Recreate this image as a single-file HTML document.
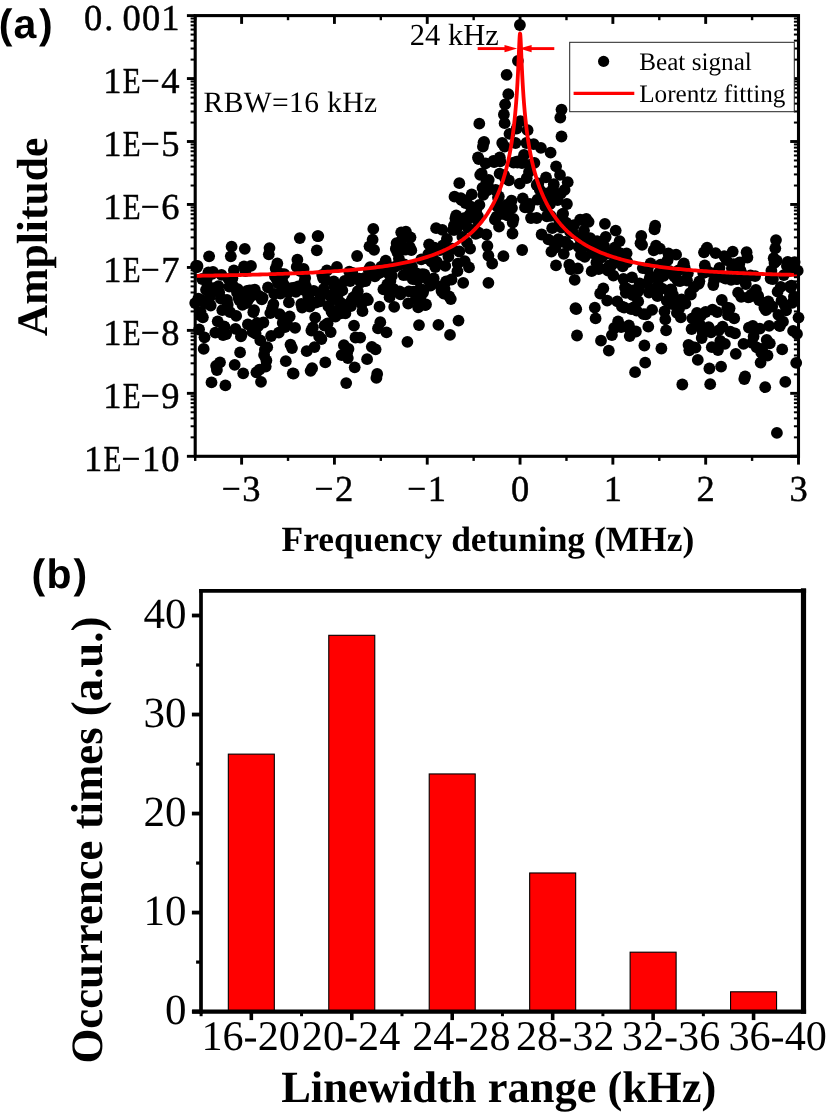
<!DOCTYPE html>
<html lang="en">
<head>
<meta charset="utf-8">
<title>Beat signal linewidth figure</title>
<style>
html,body{margin:0;padding:0;background:#fff;}
body{width:827px;height:1112px;overflow:hidden;}
svg{display:block;will-change:transform;}
text{fill:#000;text-rendering:geometricPrecision;}
</style>
</head>
<body>
<svg width="827" height="1112" viewBox="0 0 827 1112">
<rect x="0" y="0" width="827" height="1112" fill="#fff"/>
<g fill="#000">
<circle cx="195.2" cy="303.1" r="5.90"/>
<circle cx="196.0" cy="265.9" r="5.90"/>
<circle cx="196.7" cy="267.4" r="5.90"/>
<circle cx="197.5" cy="265.9" r="5.90"/>
<circle cx="198.3" cy="298.6" r="5.90"/>
<circle cx="199.1" cy="329.5" r="5.90"/>
<circle cx="199.8" cy="315.0" r="5.90"/>
<circle cx="200.6" cy="311.8" r="5.90"/>
<circle cx="201.4" cy="300.0" r="5.90"/>
<circle cx="202.2" cy="279.0" r="5.90"/>
<circle cx="202.9" cy="317.3" r="5.90"/>
<circle cx="203.7" cy="348.9" r="5.90"/>
<circle cx="204.5" cy="337.3" r="5.90"/>
<circle cx="205.3" cy="303.2" r="5.90"/>
<circle cx="206.0" cy="289.8" r="5.90"/>
<circle cx="206.8" cy="278.7" r="5.90"/>
<circle cx="207.6" cy="285.6" r="5.90"/>
<circle cx="208.4" cy="272.3" r="5.90"/>
<circle cx="209.1" cy="256.3" r="5.90"/>
<circle cx="209.9" cy="296.9" r="5.90"/>
<circle cx="210.7" cy="305.5" r="5.90"/>
<circle cx="211.5" cy="382.4" r="5.90"/>
<circle cx="212.2" cy="273.8" r="5.90"/>
<circle cx="213.0" cy="272.0" r="5.90"/>
<circle cx="213.8" cy="288.1" r="5.90"/>
<circle cx="214.6" cy="289.1" r="5.90"/>
<circle cx="215.3" cy="332.6" r="5.90"/>
<circle cx="216.1" cy="365.8" r="5.90"/>
<circle cx="216.9" cy="370.0" r="5.90"/>
<circle cx="217.7" cy="321.3" r="5.90"/>
<circle cx="218.4" cy="286.1" r="5.90"/>
<circle cx="219.2" cy="292.4" r="5.90"/>
<circle cx="220.0" cy="362.3" r="5.90"/>
<circle cx="220.8" cy="298.5" r="5.90"/>
<circle cx="221.5" cy="274.8" r="5.90"/>
<circle cx="222.3" cy="310.2" r="5.90"/>
<circle cx="223.1" cy="335.1" r="5.90"/>
<circle cx="223.9" cy="326.4" r="5.90"/>
<circle cx="224.6" cy="326.8" r="5.90"/>
<circle cx="225.4" cy="385.4" r="5.90"/>
<circle cx="226.2" cy="334.1" r="5.90"/>
<circle cx="227.0" cy="300.0" r="5.90"/>
<circle cx="227.7" cy="304.7" r="5.90"/>
<circle cx="228.5" cy="278.9" r="5.90"/>
<circle cx="229.3" cy="286.6" r="5.90"/>
<circle cx="230.1" cy="312.2" r="5.90"/>
<circle cx="230.8" cy="256.3" r="5.90"/>
<circle cx="231.6" cy="246.7" r="5.90"/>
<circle cx="232.4" cy="278.2" r="5.90"/>
<circle cx="233.1" cy="286.0" r="5.90"/>
<circle cx="233.9" cy="270.3" r="5.90"/>
<circle cx="234.7" cy="364.8" r="5.90"/>
<circle cx="235.5" cy="328.8" r="5.90"/>
<circle cx="236.2" cy="315.9" r="5.90"/>
<circle cx="237.0" cy="292.6" r="5.90"/>
<circle cx="237.8" cy="289.2" r="5.90"/>
<circle cx="238.6" cy="297.4" r="5.90"/>
<circle cx="239.3" cy="300.0" r="5.90"/>
<circle cx="240.1" cy="352.4" r="5.90"/>
<circle cx="240.9" cy="336.4" r="5.90"/>
<circle cx="241.7" cy="334.2" r="5.90"/>
<circle cx="242.4" cy="304.8" r="5.90"/>
<circle cx="243.2" cy="373.3" r="5.90"/>
<circle cx="244.0" cy="266.3" r="5.90"/>
<circle cx="244.8" cy="248.8" r="5.90"/>
<circle cx="245.5" cy="271.1" r="5.90"/>
<circle cx="246.3" cy="303.0" r="5.90"/>
<circle cx="247.1" cy="291.0" r="5.90"/>
<circle cx="247.9" cy="324.3" r="5.90"/>
<circle cx="248.6" cy="299.1" r="5.90"/>
<circle cx="249.4" cy="290.3" r="5.90"/>
<circle cx="250.2" cy="296.8" r="5.90"/>
<circle cx="251.0" cy="265.9" r="5.90"/>
<circle cx="251.7" cy="290.5" r="5.90"/>
<circle cx="252.5" cy="331.8" r="5.90"/>
<circle cx="253.3" cy="312.2" r="5.90"/>
<circle cx="254.1" cy="310.1" r="5.90"/>
<circle cx="254.8" cy="289.7" r="5.90"/>
<circle cx="255.6" cy="333.5" r="5.90"/>
<circle cx="256.4" cy="372.3" r="5.90"/>
<circle cx="257.2" cy="323.0" r="5.90"/>
<circle cx="257.9" cy="326.4" r="5.90"/>
<circle cx="258.7" cy="295.7" r="5.90"/>
<circle cx="259.5" cy="369.7" r="5.90"/>
<circle cx="260.3" cy="340.4" r="5.90"/>
<circle cx="261.0" cy="381.8" r="5.90"/>
<circle cx="261.8" cy="299.4" r="5.90"/>
<circle cx="262.6" cy="297.7" r="5.90"/>
<circle cx="263.4" cy="322.5" r="5.90"/>
<circle cx="264.1" cy="355.0" r="5.90"/>
<circle cx="264.9" cy="349.6" r="5.90"/>
<circle cx="265.7" cy="366.6" r="5.90"/>
<circle cx="266.4" cy="360.5" r="5.90"/>
<circle cx="267.2" cy="347.2" r="5.90"/>
<circle cx="268.0" cy="287.4" r="5.90"/>
<circle cx="268.8" cy="254.3" r="5.90"/>
<circle cx="269.5" cy="248.1" r="5.90"/>
<circle cx="270.3" cy="313.1" r="5.90"/>
<circle cx="271.1" cy="336.0" r="5.90"/>
<circle cx="271.9" cy="309.3" r="5.90"/>
<circle cx="272.6" cy="307.7" r="5.90"/>
<circle cx="273.4" cy="304.1" r="5.90"/>
<circle cx="274.2" cy="293.8" r="5.90"/>
<circle cx="275.0" cy="276.4" r="5.90"/>
<circle cx="275.7" cy="268.5" r="5.90"/>
<circle cx="276.5" cy="278.8" r="5.90"/>
<circle cx="277.3" cy="263.5" r="5.90"/>
<circle cx="278.1" cy="283.4" r="5.90"/>
<circle cx="278.8" cy="332.6" r="5.90"/>
<circle cx="279.6" cy="314.1" r="5.90"/>
<circle cx="280.4" cy="293.5" r="5.90"/>
<circle cx="281.2" cy="273.8" r="5.90"/>
<circle cx="281.9" cy="279.4" r="5.90"/>
<circle cx="282.7" cy="323.0" r="5.90"/>
<circle cx="283.5" cy="284.1" r="5.90"/>
<circle cx="284.3" cy="274.2" r="5.90"/>
<circle cx="285.0" cy="327.1" r="5.90"/>
<circle cx="285.8" cy="361.2" r="5.90"/>
<circle cx="286.6" cy="320.5" r="5.90"/>
<circle cx="287.4" cy="324.8" r="5.90"/>
<circle cx="288.1" cy="292.5" r="5.90"/>
<circle cx="288.9" cy="302.3" r="5.90"/>
<circle cx="289.7" cy="316.5" r="5.90"/>
<circle cx="290.5" cy="344.6" r="5.90"/>
<circle cx="291.2" cy="288.1" r="5.90"/>
<circle cx="292.0" cy="348.1" r="5.90"/>
<circle cx="292.8" cy="373.3" r="5.90"/>
<circle cx="293.6" cy="373.7" r="5.90"/>
<circle cx="294.3" cy="287.7" r="5.90"/>
<circle cx="295.1" cy="327.9" r="5.90"/>
<circle cx="295.9" cy="291.8" r="5.90"/>
<circle cx="296.7" cy="266.9" r="5.90"/>
<circle cx="297.4" cy="259.7" r="5.90"/>
<circle cx="298.2" cy="286.3" r="5.90"/>
<circle cx="299.0" cy="268.4" r="5.90"/>
<circle cx="299.8" cy="238.1" r="5.90"/>
<circle cx="300.5" cy="271.1" r="5.90"/>
<circle cx="301.3" cy="304.0" r="5.90"/>
<circle cx="302.1" cy="307.6" r="5.90"/>
<circle cx="302.8" cy="289.5" r="5.90"/>
<circle cx="303.6" cy="268.9" r="5.90"/>
<circle cx="304.4" cy="281.3" r="5.90"/>
<circle cx="305.2" cy="277.9" r="5.90"/>
<circle cx="305.9" cy="286.3" r="5.90"/>
<circle cx="306.7" cy="351.2" r="5.90"/>
<circle cx="307.5" cy="292.8" r="5.90"/>
<circle cx="308.3" cy="296.9" r="5.90"/>
<circle cx="309.0" cy="291.2" r="5.90"/>
<circle cx="309.8" cy="306.7" r="5.90"/>
<circle cx="310.6" cy="370.8" r="5.90"/>
<circle cx="311.4" cy="330.5" r="5.90"/>
<circle cx="312.1" cy="368.2" r="5.90"/>
<circle cx="312.9" cy="327.3" r="5.90"/>
<circle cx="313.7" cy="290.8" r="5.90"/>
<circle cx="314.5" cy="347.1" r="5.90"/>
<circle cx="315.2" cy="317.6" r="5.90"/>
<circle cx="316.0" cy="302.5" r="5.90"/>
<circle cx="316.8" cy="250.3" r="5.90"/>
<circle cx="317.6" cy="236.1" r="5.90"/>
<circle cx="318.3" cy="236.1" r="5.90"/>
<circle cx="319.1" cy="336.4" r="5.90"/>
<circle cx="319.9" cy="301.3" r="5.90"/>
<circle cx="320.7" cy="296.0" r="5.90"/>
<circle cx="321.4" cy="339.0" r="5.90"/>
<circle cx="322.2" cy="274.8" r="5.90"/>
<circle cx="323.0" cy="278.1" r="5.90"/>
<circle cx="323.8" cy="289.0" r="5.90"/>
<circle cx="324.5" cy="325.6" r="5.90"/>
<circle cx="325.3" cy="362.4" r="5.90"/>
<circle cx="326.1" cy="280.6" r="5.90"/>
<circle cx="326.9" cy="270.5" r="5.90"/>
<circle cx="327.6" cy="323.3" r="5.90"/>
<circle cx="328.4" cy="306.2" r="5.90"/>
<circle cx="329.2" cy="306.7" r="5.90"/>
<circle cx="330.0" cy="295.6" r="5.90"/>
<circle cx="330.7" cy="332.1" r="5.90"/>
<circle cx="331.5" cy="311.5" r="5.90"/>
<circle cx="332.3" cy="299.7" r="5.90"/>
<circle cx="333.1" cy="314.0" r="5.90"/>
<circle cx="333.8" cy="281.5" r="5.90"/>
<circle cx="334.6" cy="286.7" r="5.90"/>
<circle cx="335.4" cy="316.7" r="5.90"/>
<circle cx="336.2" cy="314.0" r="5.90"/>
<circle cx="336.9" cy="267.0" r="5.90"/>
<circle cx="337.7" cy="294.5" r="5.90"/>
<circle cx="338.5" cy="309.9" r="5.90"/>
<circle cx="339.2" cy="285.8" r="5.90"/>
<circle cx="340.0" cy="302.2" r="5.90"/>
<circle cx="340.8" cy="313.4" r="5.90"/>
<circle cx="341.6" cy="355.1" r="5.90"/>
<circle cx="342.3" cy="290.4" r="5.90"/>
<circle cx="343.1" cy="304.5" r="5.90"/>
<circle cx="343.9" cy="345.2" r="5.90"/>
<circle cx="344.7" cy="280.9" r="5.90"/>
<circle cx="345.4" cy="313.4" r="5.90"/>
<circle cx="346.2" cy="383.1" r="5.90"/>
<circle cx="347.0" cy="353.2" r="5.90"/>
<circle cx="347.8" cy="358.1" r="5.90"/>
<circle cx="348.5" cy="349.0" r="5.90"/>
<circle cx="349.3" cy="271.7" r="5.90"/>
<circle cx="350.1" cy="281.1" r="5.90"/>
<circle cx="350.9" cy="306.2" r="5.90"/>
<circle cx="351.6" cy="300.4" r="5.90"/>
<circle cx="352.4" cy="272.8" r="5.90"/>
<circle cx="353.2" cy="297.5" r="5.90"/>
<circle cx="354.0" cy="325.6" r="5.90"/>
<circle cx="354.7" cy="367.3" r="5.90"/>
<circle cx="355.5" cy="337.5" r="5.90"/>
<circle cx="356.3" cy="295.0" r="5.90"/>
<circle cx="357.1" cy="256.0" r="5.90"/>
<circle cx="357.8" cy="291.2" r="5.90"/>
<circle cx="358.6" cy="279.6" r="5.90"/>
<circle cx="359.4" cy="278.7" r="5.90"/>
<circle cx="360.2" cy="337.6" r="5.90"/>
<circle cx="360.9" cy="282.4" r="5.90"/>
<circle cx="361.7" cy="304.0" r="5.90"/>
<circle cx="362.5" cy="311.2" r="5.90"/>
<circle cx="363.3" cy="279.3" r="5.90"/>
<circle cx="364.0" cy="279.1" r="5.90"/>
<circle cx="364.8" cy="278.0" r="5.90"/>
<circle cx="365.6" cy="281.1" r="5.90"/>
<circle cx="366.4" cy="298.3" r="5.90"/>
<circle cx="367.1" cy="359.2" r="5.90"/>
<circle cx="367.9" cy="300.1" r="5.90"/>
<circle cx="368.7" cy="269.8" r="5.90"/>
<circle cx="369.5" cy="246.3" r="5.90"/>
<circle cx="370.2" cy="267.1" r="5.90"/>
<circle cx="371.0" cy="268.8" r="5.90"/>
<circle cx="371.8" cy="346.8" r="5.90"/>
<circle cx="372.6" cy="239.7" r="5.90"/>
<circle cx="373.3" cy="228.9" r="5.90"/>
<circle cx="374.1" cy="249.8" r="5.90"/>
<circle cx="374.9" cy="276.3" r="5.90"/>
<circle cx="375.6" cy="349.3" r="5.90"/>
<circle cx="376.4" cy="377.9" r="5.90"/>
<circle cx="377.2" cy="374.0" r="5.90"/>
<circle cx="378.0" cy="328.4" r="5.90"/>
<circle cx="378.7" cy="273.3" r="5.90"/>
<circle cx="379.5" cy="306.7" r="5.90"/>
<circle cx="380.3" cy="322.2" r="5.90"/>
<circle cx="381.1" cy="267.3" r="5.90"/>
<circle cx="381.8" cy="266.3" r="5.90"/>
<circle cx="382.6" cy="271.6" r="5.90"/>
<circle cx="383.4" cy="289.3" r="5.90"/>
<circle cx="384.2" cy="270.4" r="5.90"/>
<circle cx="384.9" cy="269.8" r="5.90"/>
<circle cx="385.7" cy="260.7" r="5.90"/>
<circle cx="386.5" cy="332.4" r="5.90"/>
<circle cx="387.3" cy="284.5" r="5.90"/>
<circle cx="388.0" cy="269.2" r="5.90"/>
<circle cx="388.8" cy="273.9" r="5.90"/>
<circle cx="389.6" cy="297.2" r="5.90"/>
<circle cx="390.4" cy="280.9" r="5.90"/>
<circle cx="391.1" cy="267.5" r="5.90"/>
<circle cx="391.9" cy="275.8" r="5.90"/>
<circle cx="392.7" cy="289.1" r="5.90"/>
<circle cx="393.5" cy="288.8" r="5.90"/>
<circle cx="394.2" cy="306.9" r="5.90"/>
<circle cx="395.0" cy="266.9" r="5.90"/>
<circle cx="395.8" cy="248.7" r="5.90"/>
<circle cx="396.6" cy="243.1" r="5.90"/>
<circle cx="397.3" cy="252.1" r="5.90"/>
<circle cx="398.1" cy="265.0" r="5.90"/>
<circle cx="398.9" cy="258.7" r="5.90"/>
<circle cx="399.7" cy="291.4" r="5.90"/>
<circle cx="400.4" cy="294.4" r="5.90"/>
<circle cx="401.2" cy="232.3" r="5.90"/>
<circle cx="402.0" cy="239.6" r="5.90"/>
<circle cx="402.8" cy="249.0" r="5.90"/>
<circle cx="403.5" cy="275.1" r="5.90"/>
<circle cx="404.3" cy="264.3" r="5.90"/>
<circle cx="405.1" cy="249.7" r="5.90"/>
<circle cx="405.9" cy="231.6" r="5.90"/>
<circle cx="406.6" cy="274.9" r="5.90"/>
<circle cx="407.4" cy="341.8" r="5.90"/>
<circle cx="408.2" cy="303.5" r="5.90"/>
<circle cx="408.9" cy="291.3" r="5.90"/>
<circle cx="409.7" cy="246.8" r="5.90"/>
<circle cx="410.5" cy="237.3" r="5.90"/>
<circle cx="411.3" cy="250.2" r="5.90"/>
<circle cx="412.0" cy="266.7" r="5.90"/>
<circle cx="412.8" cy="279.2" r="5.90"/>
<circle cx="413.6" cy="291.6" r="5.90"/>
<circle cx="414.4" cy="292.1" r="5.90"/>
<circle cx="415.1" cy="292.7" r="5.90"/>
<circle cx="415.9" cy="298.5" r="5.90"/>
<circle cx="416.7" cy="273.5" r="5.90"/>
<circle cx="417.5" cy="280.2" r="5.90"/>
<circle cx="418.2" cy="307.4" r="5.90"/>
<circle cx="419.0" cy="325.1" r="5.90"/>
<circle cx="419.8" cy="289.1" r="5.90"/>
<circle cx="420.6" cy="296.3" r="5.90"/>
<circle cx="421.3" cy="259.3" r="5.90"/>
<circle cx="422.1" cy="274.2" r="5.90"/>
<circle cx="422.9" cy="292.9" r="5.90"/>
<circle cx="423.7" cy="289.9" r="5.90"/>
<circle cx="424.4" cy="274.3" r="5.90"/>
<circle cx="425.2" cy="305.1" r="5.90"/>
<circle cx="426.0" cy="304.5" r="5.90"/>
<circle cx="426.8" cy="258.3" r="5.90"/>
<circle cx="427.5" cy="279.1" r="5.90"/>
<circle cx="428.3" cy="254.1" r="5.90"/>
<circle cx="429.1" cy="244.3" r="5.90"/>
<circle cx="429.9" cy="280.6" r="5.90"/>
<circle cx="430.6" cy="285.7" r="5.90"/>
<circle cx="431.4" cy="261.5" r="5.90"/>
<circle cx="432.2" cy="260.7" r="5.90"/>
<circle cx="433.0" cy="258.6" r="5.90"/>
<circle cx="433.7" cy="278.4" r="5.90"/>
<circle cx="434.5" cy="247.7" r="5.90"/>
<circle cx="435.3" cy="267.0" r="5.90"/>
<circle cx="436.1" cy="228.2" r="5.90"/>
<circle cx="436.8" cy="261.8" r="5.90"/>
<circle cx="437.6" cy="264.2" r="5.90"/>
<circle cx="438.4" cy="324.9" r="5.90"/>
<circle cx="439.2" cy="249.3" r="5.90"/>
<circle cx="439.9" cy="250.0" r="5.90"/>
<circle cx="440.7" cy="286.3" r="5.90"/>
<circle cx="441.5" cy="291.1" r="5.90"/>
<circle cx="442.3" cy="229.9" r="5.90"/>
<circle cx="443.0" cy="245.4" r="5.90"/>
<circle cx="443.8" cy="293.7" r="5.90"/>
<circle cx="444.6" cy="288.8" r="5.90"/>
<circle cx="445.3" cy="265.9" r="5.90"/>
<circle cx="446.1" cy="281.3" r="5.90"/>
<circle cx="446.9" cy="238.9" r="5.90"/>
<circle cx="447.7" cy="248.1" r="5.90"/>
<circle cx="448.4" cy="256.7" r="5.90"/>
<circle cx="449.2" cy="296.3" r="5.90"/>
<circle cx="450.0" cy="334.9" r="5.90"/>
<circle cx="450.8" cy="299.1" r="5.90"/>
<circle cx="451.5" cy="279.5" r="5.90"/>
<circle cx="452.3" cy="248.7" r="5.90"/>
<circle cx="453.1" cy="229.9" r="5.90"/>
<circle cx="453.9" cy="225.7" r="5.90"/>
<circle cx="454.6" cy="229.8" r="5.90"/>
<circle cx="455.4" cy="218.3" r="5.90"/>
<circle cx="456.2" cy="215.4" r="5.90"/>
<circle cx="457.0" cy="228.0" r="5.90"/>
<circle cx="457.7" cy="263.6" r="5.90"/>
<circle cx="458.5" cy="320.6" r="5.90"/>
<circle cx="459.3" cy="251.5" r="5.90"/>
<circle cx="460.1" cy="223.6" r="5.90"/>
<circle cx="460.8" cy="198.1" r="5.90"/>
<circle cx="461.6" cy="200.2" r="5.90"/>
<circle cx="462.4" cy="236.9" r="5.90"/>
<circle cx="463.2" cy="221.1" r="5.90"/>
<circle cx="463.9" cy="218.2" r="5.90"/>
<circle cx="464.7" cy="261.2" r="5.90"/>
<circle cx="465.5" cy="203.0" r="5.90"/>
<circle cx="466.3" cy="200.3" r="5.90"/>
<circle cx="467.0" cy="242.4" r="5.90"/>
<circle cx="467.8" cy="227.7" r="5.90"/>
<circle cx="468.6" cy="218.0" r="5.90"/>
<circle cx="469.4" cy="214.8" r="5.90"/>
<circle cx="470.1" cy="248.7" r="5.90"/>
<circle cx="470.9" cy="206.7" r="5.90"/>
<circle cx="471.7" cy="194.4" r="5.90"/>
<circle cx="472.5" cy="213.5" r="5.90"/>
<circle cx="473.2" cy="212.7" r="5.90"/>
<circle cx="474.0" cy="231.2" r="5.90"/>
<circle cx="474.8" cy="229.7" r="5.90"/>
<circle cx="475.6" cy="233.8" r="5.90"/>
<circle cx="476.3" cy="209.9" r="5.90"/>
<circle cx="477.1" cy="219.6" r="5.90"/>
<circle cx="477.9" cy="216.2" r="5.90"/>
<circle cx="478.7" cy="232.6" r="5.90"/>
<circle cx="479.4" cy="204.9" r="5.90"/>
<circle cx="480.2" cy="174.8" r="5.90"/>
<circle cx="481.7" cy="173.5" r="5.90"/>
<circle cx="482.5" cy="187.9" r="5.90"/>
<circle cx="483.3" cy="194.8" r="5.90"/>
<circle cx="485.6" cy="163.4" r="5.90"/>
<circle cx="486.4" cy="181.9" r="5.90"/>
<circle cx="487.2" cy="190.4" r="5.90"/>
<circle cx="487.9" cy="185.5" r="5.90"/>
<circle cx="488.7" cy="179.8" r="5.90"/>
<circle cx="493.4" cy="160.9" r="5.90"/>
<circle cx="494.1" cy="162.2" r="5.90"/>
<circle cx="494.9" cy="219.7" r="5.90"/>
<circle cx="495.7" cy="190.0" r="5.90"/>
<circle cx="496.5" cy="216.6" r="5.90"/>
<circle cx="497.2" cy="206.4" r="5.90"/>
<circle cx="498.0" cy="197.5" r="5.90"/>
<circle cx="498.8" cy="196.5" r="5.90"/>
<circle cx="499.6" cy="173.7" r="5.90"/>
<circle cx="500.3" cy="161.4" r="5.90"/>
<circle cx="502.7" cy="213.9" r="5.90"/>
<circle cx="503.4" cy="256.2" r="5.90"/>
<circle cx="504.2" cy="175.2" r="5.90"/>
<circle cx="505.0" cy="178.1" r="5.90"/>
<circle cx="506.5" cy="204.9" r="5.90"/>
<circle cx="507.3" cy="215.4" r="5.90"/>
<circle cx="508.1" cy="214.0" r="5.90"/>
<circle cx="508.9" cy="180.4" r="5.90"/>
<circle cx="512.0" cy="208.1" r="5.90"/>
<circle cx="512.7" cy="222.6" r="5.90"/>
<circle cx="513.5" cy="162.7" r="5.90"/>
<circle cx="516.6" cy="161.6" r="5.90"/>
<circle cx="517.4" cy="162.7" r="5.90"/>
<circle cx="519.7" cy="183.6" r="5.90"/>
<circle cx="520.5" cy="160.6" r="5.90"/>
<circle cx="522.0" cy="163.0" r="5.90"/>
<circle cx="522.8" cy="198.4" r="5.90"/>
<circle cx="526.7" cy="178.2" r="5.90"/>
<circle cx="529.0" cy="171.9" r="5.90"/>
<circle cx="529.8" cy="203.8" r="5.90"/>
<circle cx="530.5" cy="164.7" r="5.90"/>
<circle cx="534.4" cy="162.8" r="5.90"/>
<circle cx="536.7" cy="185.0" r="5.90"/>
<circle cx="537.5" cy="199.7" r="5.90"/>
<circle cx="538.3" cy="183.5" r="5.90"/>
<circle cx="539.8" cy="189.8" r="5.90"/>
<circle cx="544.5" cy="193.3" r="5.90"/>
<circle cx="545.3" cy="206.3" r="5.90"/>
<circle cx="546.0" cy="177.4" r="5.90"/>
<circle cx="546.8" cy="216.3" r="5.90"/>
<circle cx="547.6" cy="201.7" r="5.90"/>
<circle cx="549.1" cy="193.0" r="5.90"/>
<circle cx="549.9" cy="204.2" r="5.90"/>
<circle cx="550.7" cy="215.8" r="5.90"/>
<circle cx="551.4" cy="251.6" r="5.90"/>
<circle cx="552.2" cy="228.2" r="5.90"/>
<circle cx="553.0" cy="189.0" r="5.90"/>
<circle cx="553.8" cy="184.2" r="5.90"/>
<circle cx="554.5" cy="196.9" r="5.90"/>
<circle cx="555.3" cy="247.7" r="5.90"/>
<circle cx="556.1" cy="166.3" r="5.90"/>
<circle cx="557.6" cy="200.1" r="5.90"/>
<circle cx="558.4" cy="239.1" r="5.90"/>
<circle cx="559.2" cy="220.3" r="5.90"/>
<circle cx="560.0" cy="174.9" r="5.90"/>
<circle cx="560.7" cy="193.6" r="5.90"/>
<circle cx="561.5" cy="227.7" r="5.90"/>
<circle cx="562.3" cy="214.5" r="5.90"/>
<circle cx="563.1" cy="213.7" r="5.90"/>
<circle cx="563.8" cy="242.1" r="5.90"/>
<circle cx="564.6" cy="189.9" r="5.90"/>
<circle cx="565.4" cy="241.8" r="5.90"/>
<circle cx="566.2" cy="222.6" r="5.90"/>
<circle cx="566.9" cy="204.0" r="5.90"/>
<circle cx="567.7" cy="182.2" r="5.90"/>
<circle cx="568.5" cy="245.2" r="5.90"/>
<circle cx="569.3" cy="264.7" r="5.90"/>
<circle cx="570.0" cy="231.5" r="5.90"/>
<circle cx="570.8" cy="269.3" r="5.90"/>
<circle cx="571.6" cy="226.1" r="5.90"/>
<circle cx="572.4" cy="233.0" r="5.90"/>
<circle cx="573.1" cy="233.3" r="5.90"/>
<circle cx="573.9" cy="225.2" r="5.90"/>
<circle cx="574.7" cy="279.9" r="5.90"/>
<circle cx="575.5" cy="308.2" r="5.90"/>
<circle cx="576.2" cy="309.2" r="5.90"/>
<circle cx="577.0" cy="335.5" r="5.90"/>
<circle cx="577.8" cy="268.5" r="5.90"/>
<circle cx="578.6" cy="246.8" r="5.90"/>
<circle cx="579.3" cy="237.3" r="5.90"/>
<circle cx="580.1" cy="219.7" r="5.90"/>
<circle cx="580.9" cy="254.9" r="5.90"/>
<circle cx="581.7" cy="241.4" r="5.90"/>
<circle cx="582.4" cy="248.0" r="5.90"/>
<circle cx="583.2" cy="220.3" r="5.90"/>
<circle cx="584.0" cy="230.6" r="5.90"/>
<circle cx="584.8" cy="256.8" r="5.90"/>
<circle cx="585.5" cy="243.7" r="5.90"/>
<circle cx="586.3" cy="218.8" r="5.90"/>
<circle cx="587.1" cy="240.1" r="5.90"/>
<circle cx="587.8" cy="241.9" r="5.90"/>
<circle cx="588.6" cy="221.8" r="5.90"/>
<circle cx="589.4" cy="239.7" r="5.90"/>
<circle cx="590.2" cy="238.1" r="5.90"/>
<circle cx="590.9" cy="247.2" r="5.90"/>
<circle cx="591.7" cy="271.2" r="5.90"/>
<circle cx="592.5" cy="253.0" r="5.90"/>
<circle cx="593.3" cy="244.7" r="5.90"/>
<circle cx="594.0" cy="246.5" r="5.90"/>
<circle cx="594.8" cy="307.6" r="5.90"/>
<circle cx="595.6" cy="318.4" r="5.90"/>
<circle cx="596.4" cy="262.4" r="5.90"/>
<circle cx="597.1" cy="241.2" r="5.90"/>
<circle cx="597.9" cy="252.3" r="5.90"/>
<circle cx="598.7" cy="269.1" r="5.90"/>
<circle cx="599.5" cy="267.8" r="5.90"/>
<circle cx="600.2" cy="293.5" r="5.90"/>
<circle cx="601.0" cy="340.7" r="5.90"/>
<circle cx="601.8" cy="257.4" r="5.90"/>
<circle cx="602.6" cy="254.4" r="5.90"/>
<circle cx="603.3" cy="288.4" r="5.90"/>
<circle cx="604.1" cy="245.9" r="5.90"/>
<circle cx="604.9" cy="223.8" r="5.90"/>
<circle cx="605.7" cy="237.0" r="5.90"/>
<circle cx="606.4" cy="253.5" r="5.90"/>
<circle cx="607.2" cy="300.6" r="5.90"/>
<circle cx="608.0" cy="270.7" r="5.90"/>
<circle cx="608.8" cy="350.6" r="5.90"/>
<circle cx="609.5" cy="265.4" r="5.90"/>
<circle cx="610.3" cy="253.1" r="5.90"/>
<circle cx="611.1" cy="265.9" r="5.90"/>
<circle cx="611.9" cy="335.1" r="5.90"/>
<circle cx="612.6" cy="263.9" r="5.90"/>
<circle cx="613.4" cy="275.7" r="5.90"/>
<circle cx="614.2" cy="328.0" r="5.90"/>
<circle cx="615.0" cy="247.3" r="5.90"/>
<circle cx="615.7" cy="230.6" r="5.90"/>
<circle cx="616.5" cy="261.7" r="5.90"/>
<circle cx="617.3" cy="301.4" r="5.90"/>
<circle cx="618.1" cy="321.5" r="5.90"/>
<circle cx="618.8" cy="252.9" r="5.90"/>
<circle cx="619.6" cy="241.1" r="5.90"/>
<circle cx="620.4" cy="253.5" r="5.90"/>
<circle cx="621.1" cy="327.0" r="5.90"/>
<circle cx="621.9" cy="306.6" r="5.90"/>
<circle cx="622.7" cy="266.3" r="5.90"/>
<circle cx="623.5" cy="279.0" r="5.90"/>
<circle cx="624.2" cy="307.5" r="5.90"/>
<circle cx="625.0" cy="287.4" r="5.90"/>
<circle cx="625.8" cy="292.9" r="5.90"/>
<circle cx="626.6" cy="253.3" r="5.90"/>
<circle cx="627.3" cy="262.0" r="5.90"/>
<circle cx="628.1" cy="289.3" r="5.90"/>
<circle cx="628.9" cy="325.3" r="5.90"/>
<circle cx="629.7" cy="336.1" r="5.90"/>
<circle cx="630.4" cy="330.9" r="5.90"/>
<circle cx="631.2" cy="309.0" r="5.90"/>
<circle cx="632.0" cy="277.4" r="5.90"/>
<circle cx="632.8" cy="295.2" r="5.90"/>
<circle cx="633.5" cy="307.5" r="5.90"/>
<circle cx="634.3" cy="290.2" r="5.90"/>
<circle cx="635.1" cy="372.2" r="5.90"/>
<circle cx="635.9" cy="331.5" r="5.90"/>
<circle cx="636.6" cy="310.7" r="5.90"/>
<circle cx="637.4" cy="292.2" r="5.90"/>
<circle cx="638.2" cy="301.4" r="5.90"/>
<circle cx="639.0" cy="289.6" r="5.90"/>
<circle cx="639.7" cy="283.5" r="5.90"/>
<circle cx="640.5" cy="243.2" r="5.90"/>
<circle cx="641.3" cy="236.0" r="5.90"/>
<circle cx="642.1" cy="244.8" r="5.90"/>
<circle cx="642.8" cy="268.1" r="5.90"/>
<circle cx="643.6" cy="314.2" r="5.90"/>
<circle cx="644.4" cy="345.5" r="5.90"/>
<circle cx="645.2" cy="362.7" r="5.90"/>
<circle cx="645.9" cy="314.4" r="5.90"/>
<circle cx="646.7" cy="283.4" r="5.90"/>
<circle cx="647.5" cy="269.4" r="5.90"/>
<circle cx="648.3" cy="326.7" r="5.90"/>
<circle cx="649.0" cy="292.6" r="5.90"/>
<circle cx="649.8" cy="277.8" r="5.90"/>
<circle cx="650.6" cy="263.5" r="5.90"/>
<circle cx="651.4" cy="277.0" r="5.90"/>
<circle cx="652.1" cy="309.9" r="5.90"/>
<circle cx="652.9" cy="291.4" r="5.90"/>
<circle cx="653.7" cy="250.3" r="5.90"/>
<circle cx="654.5" cy="229.4" r="5.90"/>
<circle cx="655.2" cy="225.7" r="5.90"/>
<circle cx="656.0" cy="245.7" r="5.90"/>
<circle cx="656.8" cy="286.8" r="5.90"/>
<circle cx="657.5" cy="296.2" r="5.90"/>
<circle cx="658.3" cy="279.6" r="5.90"/>
<circle cx="659.1" cy="272.7" r="5.90"/>
<circle cx="659.9" cy="248.7" r="5.90"/>
<circle cx="660.6" cy="264.7" r="5.90"/>
<circle cx="661.4" cy="348.5" r="5.90"/>
<circle cx="662.2" cy="288.7" r="5.90"/>
<circle cx="663.0" cy="264.3" r="5.90"/>
<circle cx="663.7" cy="275.9" r="5.90"/>
<circle cx="664.5" cy="311.3" r="5.90"/>
<circle cx="665.3" cy="319.4" r="5.90"/>
<circle cx="666.1" cy="330.3" r="5.90"/>
<circle cx="666.8" cy="300.9" r="5.90"/>
<circle cx="667.6" cy="260.2" r="5.90"/>
<circle cx="668.4" cy="253.4" r="5.90"/>
<circle cx="669.2" cy="270.8" r="5.90"/>
<circle cx="669.9" cy="294.6" r="5.90"/>
<circle cx="670.7" cy="289.3" r="5.90"/>
<circle cx="671.5" cy="289.9" r="5.90"/>
<circle cx="672.3" cy="304.1" r="5.90"/>
<circle cx="673.0" cy="294.9" r="5.90"/>
<circle cx="673.8" cy="274.8" r="5.90"/>
<circle cx="674.6" cy="276.9" r="5.90"/>
<circle cx="675.4" cy="274.6" r="5.90"/>
<circle cx="676.1" cy="254.7" r="5.90"/>
<circle cx="676.9" cy="312.9" r="5.90"/>
<circle cx="677.7" cy="280.6" r="5.90"/>
<circle cx="678.5" cy="270.4" r="5.90"/>
<circle cx="679.2" cy="308.3" r="5.90"/>
<circle cx="680.0" cy="281.1" r="5.90"/>
<circle cx="680.8" cy="317.4" r="5.90"/>
<circle cx="681.6" cy="299.4" r="5.90"/>
<circle cx="682.3" cy="384.5" r="5.90"/>
<circle cx="683.1" cy="265.0" r="5.90"/>
<circle cx="683.9" cy="263.4" r="5.90"/>
<circle cx="684.7" cy="267.7" r="5.90"/>
<circle cx="685.4" cy="303.7" r="5.90"/>
<circle cx="686.2" cy="279.7" r="5.90"/>
<circle cx="687.0" cy="280.5" r="5.90"/>
<circle cx="687.8" cy="273.3" r="5.90"/>
<circle cx="688.5" cy="344.9" r="5.90"/>
<circle cx="689.3" cy="350.3" r="5.90"/>
<circle cx="690.1" cy="293.1" r="5.90"/>
<circle cx="690.9" cy="294.7" r="5.90"/>
<circle cx="691.6" cy="329.0" r="5.90"/>
<circle cx="692.4" cy="318.3" r="5.90"/>
<circle cx="693.2" cy="347.1" r="5.90"/>
<circle cx="693.9" cy="287.2" r="5.90"/>
<circle cx="694.7" cy="318.6" r="5.90"/>
<circle cx="695.5" cy="347.6" r="5.90"/>
<circle cx="696.3" cy="320.8" r="5.90"/>
<circle cx="697.0" cy="312.8" r="5.90"/>
<circle cx="697.8" cy="359.9" r="5.90"/>
<circle cx="698.6" cy="283.9" r="5.90"/>
<circle cx="699.4" cy="281.3" r="5.90"/>
<circle cx="700.1" cy="325.0" r="5.90"/>
<circle cx="700.9" cy="315.8" r="5.90"/>
<circle cx="701.7" cy="338.0" r="5.90"/>
<circle cx="702.5" cy="331.6" r="5.90"/>
<circle cx="703.2" cy="273.1" r="5.90"/>
<circle cx="704.0" cy="252.3" r="5.90"/>
<circle cx="704.8" cy="265.5" r="5.90"/>
<circle cx="705.6" cy="312.0" r="5.90"/>
<circle cx="706.3" cy="249.4" r="5.90"/>
<circle cx="707.1" cy="247.6" r="5.90"/>
<circle cx="707.9" cy="271.5" r="5.90"/>
<circle cx="708.7" cy="327.2" r="5.90"/>
<circle cx="709.4" cy="368.5" r="5.90"/>
<circle cx="710.2" cy="384.2" r="5.90"/>
<circle cx="711.0" cy="332.4" r="5.90"/>
<circle cx="711.8" cy="347.2" r="5.90"/>
<circle cx="712.5" cy="309.7" r="5.90"/>
<circle cx="713.3" cy="285.0" r="5.90"/>
<circle cx="714.1" cy="280.5" r="5.90"/>
<circle cx="714.9" cy="273.2" r="5.90"/>
<circle cx="715.6" cy="253.2" r="5.90"/>
<circle cx="716.4" cy="276.9" r="5.90"/>
<circle cx="717.2" cy="312.1" r="5.90"/>
<circle cx="718.0" cy="350.0" r="5.90"/>
<circle cx="718.7" cy="330.3" r="5.90"/>
<circle cx="719.5" cy="267.9" r="5.90"/>
<circle cx="720.3" cy="341.0" r="5.90"/>
<circle cx="721.1" cy="366.6" r="5.90"/>
<circle cx="721.8" cy="300.0" r="5.90"/>
<circle cx="722.6" cy="326.7" r="5.90"/>
<circle cx="723.4" cy="277.5" r="5.90"/>
<circle cx="724.2" cy="256.1" r="5.90"/>
<circle cx="724.9" cy="343.8" r="5.90"/>
<circle cx="725.7" cy="278.6" r="5.90"/>
<circle cx="726.5" cy="260.1" r="5.90"/>
<circle cx="727.3" cy="307.7" r="5.90"/>
<circle cx="728.0" cy="315.2" r="5.90"/>
<circle cx="728.8" cy="310.0" r="5.90"/>
<circle cx="729.6" cy="308.2" r="5.90"/>
<circle cx="730.3" cy="331.7" r="5.90"/>
<circle cx="731.1" cy="279.9" r="5.90"/>
<circle cx="731.9" cy="268.2" r="5.90"/>
<circle cx="732.7" cy="251.6" r="5.90"/>
<circle cx="733.4" cy="264.2" r="5.90"/>
<circle cx="734.2" cy="318.4" r="5.90"/>
<circle cx="735.0" cy="333.4" r="5.90"/>
<circle cx="735.8" cy="353.8" r="5.90"/>
<circle cx="736.5" cy="279.0" r="5.90"/>
<circle cx="737.3" cy="278.8" r="5.90"/>
<circle cx="738.1" cy="292.7" r="5.90"/>
<circle cx="738.9" cy="264.7" r="5.90"/>
<circle cx="739.6" cy="262.5" r="5.90"/>
<circle cx="740.4" cy="270.1" r="5.90"/>
<circle cx="741.2" cy="296.8" r="5.90"/>
<circle cx="742.0" cy="273.9" r="5.90"/>
<circle cx="742.7" cy="279.4" r="5.90"/>
<circle cx="743.5" cy="343.9" r="5.90"/>
<circle cx="744.3" cy="379.0" r="5.90"/>
<circle cx="745.1" cy="376.3" r="5.90"/>
<circle cx="745.8" cy="284.1" r="5.90"/>
<circle cx="746.6" cy="252.2" r="5.90"/>
<circle cx="747.4" cy="257.6" r="5.90"/>
<circle cx="748.2" cy="297.4" r="5.90"/>
<circle cx="748.9" cy="327.6" r="5.90"/>
<circle cx="749.7" cy="296.9" r="5.90"/>
<circle cx="750.5" cy="275.5" r="5.90"/>
<circle cx="751.3" cy="294.7" r="5.90"/>
<circle cx="752.0" cy="342.8" r="5.90"/>
<circle cx="752.8" cy="325.8" r="5.90"/>
<circle cx="753.6" cy="336.5" r="5.90"/>
<circle cx="754.4" cy="292.6" r="5.90"/>
<circle cx="755.1" cy="276.2" r="5.90"/>
<circle cx="755.9" cy="289.9" r="5.90"/>
<circle cx="756.7" cy="347.3" r="5.90"/>
<circle cx="757.5" cy="297.2" r="5.90"/>
<circle cx="758.2" cy="296.0" r="5.90"/>
<circle cx="759.0" cy="300.0" r="5.90"/>
<circle cx="759.8" cy="328.7" r="5.90"/>
<circle cx="760.6" cy="362.6" r="5.90"/>
<circle cx="761.3" cy="352.7" r="5.90"/>
<circle cx="762.1" cy="349.0" r="5.90"/>
<circle cx="762.9" cy="353.9" r="5.90"/>
<circle cx="763.6" cy="303.0" r="5.90"/>
<circle cx="764.4" cy="307.7" r="5.90"/>
<circle cx="765.2" cy="387.2" r="5.90"/>
<circle cx="766.0" cy="310.2" r="5.90"/>
<circle cx="766.7" cy="339.9" r="5.90"/>
<circle cx="767.5" cy="355.5" r="5.90"/>
<circle cx="768.3" cy="301.3" r="5.90"/>
<circle cx="769.1" cy="325.8" r="5.90"/>
<circle cx="769.8" cy="343.3" r="5.90"/>
<circle cx="770.6" cy="278.5" r="5.90"/>
<circle cx="771.4" cy="270.7" r="5.90"/>
<circle cx="772.2" cy="306.5" r="5.90"/>
<circle cx="772.9" cy="279.1" r="5.90"/>
<circle cx="773.7" cy="258.2" r="5.90"/>
<circle cx="774.5" cy="262.9" r="5.90"/>
<circle cx="775.3" cy="248.3" r="5.90"/>
<circle cx="776.0" cy="240.1" r="5.90"/>
<circle cx="776.8" cy="260.6" r="5.90"/>
<circle cx="777.6" cy="291.7" r="5.90"/>
<circle cx="778.4" cy="314.9" r="5.90"/>
<circle cx="779.1" cy="325.3" r="5.90"/>
<circle cx="779.9" cy="326.1" r="5.90"/>
<circle cx="780.7" cy="286.9" r="5.90"/>
<circle cx="781.5" cy="300.7" r="5.90"/>
<circle cx="782.2" cy="349.4" r="5.90"/>
<circle cx="783.0" cy="321.7" r="5.90"/>
<circle cx="783.8" cy="275.1" r="5.90"/>
<circle cx="784.6" cy="304.8" r="5.90"/>
<circle cx="785.3" cy="381.9" r="5.90"/>
<circle cx="786.1" cy="310.4" r="5.90"/>
<circle cx="786.9" cy="265.9" r="5.90"/>
<circle cx="787.7" cy="261.9" r="5.90"/>
<circle cx="788.4" cy="262.7" r="5.90"/>
<circle cx="789.2" cy="271.1" r="5.90"/>
<circle cx="790.0" cy="286.3" r="5.90"/>
<circle cx="790.8" cy="287.5" r="5.90"/>
<circle cx="791.5" cy="285.7" r="5.90"/>
<circle cx="792.3" cy="302.9" r="5.90"/>
<circle cx="793.1" cy="330.9" r="5.90"/>
<circle cx="793.9" cy="296.6" r="5.90"/>
<circle cx="794.6" cy="262.1" r="5.90"/>
<circle cx="795.4" cy="270.1" r="5.90"/>
<circle cx="796.2" cy="362.8" r="5.90"/>
<circle cx="797.0" cy="333.9" r="5.90"/>
<circle cx="797.7" cy="270.7" r="5.90"/>
<circle cx="798.5" cy="317.6" r="5.90"/>
<circle cx="519.9" cy="25.0" r="5.90"/>
<circle cx="517.9" cy="60.8" r="5.90"/>
<circle cx="506.6" cy="74.8" r="5.90"/>
<circle cx="508.3" cy="94.2" r="5.90"/>
<circle cx="505.1" cy="104.3" r="5.90"/>
<circle cx="503.9" cy="114.5" r="5.90"/>
<circle cx="504.6" cy="123.2" r="5.90"/>
<circle cx="479.3" cy="123.7" r="5.90"/>
<circle cx="520.4" cy="121.2" r="5.90"/>
<circle cx="516.7" cy="128.5" r="5.90"/>
<circle cx="527.6" cy="130.2" r="5.90"/>
<circle cx="509.5" cy="133.8" r="5.90"/>
<circle cx="561.5" cy="109.6" r="5.90"/>
<circle cx="560.3" cy="117.6" r="5.90"/>
<circle cx="561.5" cy="136.5" r="5.90"/>
<circle cx="484.1" cy="141.8" r="5.90"/>
<circle cx="482.9" cy="146.6" r="5.90"/>
<circle cx="502.2" cy="143.0" r="5.90"/>
<circle cx="504.6" cy="146.6" r="5.90"/>
<circle cx="515.5" cy="143.0" r="5.90"/>
<circle cx="526.4" cy="143.0" r="5.90"/>
<circle cx="533.7" cy="144.2" r="5.90"/>
<circle cx="540.9" cy="147.8" r="5.90"/>
<circle cx="550.6" cy="152.7" r="5.90"/>
<circle cx="478.0" cy="157.5" r="5.90"/>
<circle cx="499.8" cy="157.5" r="5.90"/>
<circle cx="524.0" cy="155.0" r="5.90"/>
<circle cx="513.5" cy="219.0" r="5.90"/>
<circle cx="499.0" cy="226.7" r="5.90"/>
<circle cx="512.5" cy="233.5" r="5.90"/>
<circle cx="522.2" cy="250.0" r="5.90"/>
<circle cx="486.4" cy="234.5" r="5.90"/>
<circle cx="529.0" cy="207.4" r="5.90"/>
<circle cx="525.0" cy="207.4" r="5.90"/>
<circle cx="531.0" cy="218.0" r="5.90"/>
<circle cx="536.7" cy="218.0" r="5.90"/>
<circle cx="541.6" cy="234.5" r="5.90"/>
<circle cx="548.3" cy="239.3" r="5.90"/>
<circle cx="554.0" cy="242.2" r="5.90"/>
<circle cx="511.6" cy="200.6" r="5.90"/>
<circle cx="502.0" cy="207.4" r="5.90"/>
<circle cx="487.4" cy="246.0" r="5.90"/>
<circle cx="488.4" cy="255.7" r="5.90"/>
<circle cx="492.2" cy="263.5" r="5.90"/>
<circle cx="488.4" cy="282.8" r="5.90"/>
<circle cx="469.0" cy="267.4" r="5.90"/>
<circle cx="457.4" cy="271.2" r="5.90"/>
<circle cx="463.2" cy="282.8" r="5.90"/>
<circle cx="556.0" cy="265.4" r="5.90"/>
<circle cx="563.8" cy="253.8" r="5.90"/>
<circle cx="459.3" cy="183.2" r="5.90"/>
<circle cx="454.5" cy="196.7" r="5.90"/>
<circle cx="478.7" cy="159.0" r="5.90"/>
<circle cx="483.5" cy="142.6" r="5.90"/>
<circle cx="776.9" cy="432.9" r="5.90"/>
</g>
<path d="M195.20 275.84 L197.70 275.80 L200.19 275.76 L202.69 275.72 L205.18 275.68 L207.68 275.64 L210.18 275.60 L212.67 275.55 L215.17 275.51 L217.66 275.47 L220.16 275.42 L222.65 275.37 L225.15 275.32 L227.65 275.27 L230.14 275.22 L232.64 275.17 L235.13 275.12 L237.63 275.06 L240.13 275.01 L242.62 274.95 L245.12 274.89 L247.61 274.83 L250.11 274.77 L252.61 274.71 L255.10 274.64 L257.60 274.58 L260.09 274.51 L262.59 274.44 L265.08 274.36 L267.58 274.29 L270.08 274.21 L272.57 274.14 L275.07 274.06 L277.56 273.97 L280.06 273.89 L282.56 273.80 L285.05 273.71 L287.55 273.62 L290.04 273.52 L292.54 273.43 L295.04 273.32 L297.53 273.22 L300.03 273.11 L302.52 273.00 L305.02 272.89 L307.51 272.77 L310.01 272.65 L312.51 272.53 L315.00 272.40 L317.50 272.27 L319.99 272.13 L322.49 271.99 L324.99 271.84 L327.48 271.69 L329.98 271.53 L332.47 271.37 L334.97 271.20 L337.46 271.03 L339.96 270.85 L342.46 270.66 L344.95 270.47 L347.45 270.27 L349.94 270.07 L352.44 269.85 L354.94 269.63 L357.43 269.40 L359.93 269.16 L362.42 268.91 L364.92 268.65 L367.42 268.39 L369.91 268.11 L372.41 267.82 L374.90 267.51 L377.40 267.20 L379.89 266.87 L382.39 266.53 L384.89 266.17 L387.38 265.80 L389.88 265.41 L392.37 265.01 L394.87 264.59 L397.37 264.15 L399.86 263.68 L402.36 263.20 L404.85 262.70 L407.35 262.17 L409.85 261.61 L412.34 261.03 L414.84 260.42 L417.33 259.78 L419.83 259.11 L422.32 258.40 L424.82 257.66 L427.32 256.88 L429.81 256.06 L432.31 255.19 L434.80 254.28 L437.30 253.32 L439.80 252.30 L442.29 251.22 L444.79 250.09 L447.28 248.88 L449.78 247.61 L452.28 246.26 L454.77 244.83 L457.27 243.30 L459.76 241.68 L462.26 239.96 L464.75 238.12 L467.25 236.15 L469.75 234.05 L472.24 231.79 L474.74 229.37 L477.23 226.77 L479.73 223.96 L482.23 220.92 L484.72 217.62 L487.22 214.03 L489.71 210.09 L492.21 205.76 L492.60 205.04 L493.00 204.31 L493.39 203.56 L493.78 202.80 L494.18 202.03 L494.57 201.24 L494.96 200.44 L495.36 199.63 L495.75 198.80 L496.14 197.96 L496.54 197.10 L496.93 196.23 L497.32 195.34 L497.72 194.43 L498.11 193.51 L498.50 192.57 L498.90 191.60 L499.29 190.62 L499.68 189.62 L500.07 188.60 L500.47 187.56 L500.86 186.49 L501.25 185.40 L501.65 184.29 L502.04 183.15 L502.43 181.98 L502.83 180.79 L503.22 179.56 L503.61 178.31 L504.01 177.03 L504.40 175.71 L504.79 174.36 L505.19 172.97 L505.58 171.54 L505.97 170.07 L506.37 168.56 L506.76 167.01 L507.15 165.41 L507.55 163.75 L507.94 162.05 L508.33 160.28 L508.73 158.46 L509.12 156.57 L509.51 154.61 L509.91 152.58 L510.30 150.47 L510.69 148.27 L511.09 145.98 L511.48 143.58 L511.87 141.08 L512.27 138.46 L512.66 135.70 L513.05 132.80 L513.45 129.74 L513.84 126.51 L514.23 123.07 L514.63 119.41 L515.02 115.50 L515.41 111.30 L515.53 110.00 L515.65 108.67 L515.76 107.31 L515.88 105.92 L515.99 104.49 L516.11 103.03 L516.23 101.53 L516.34 99.99 L516.46 98.42 L516.57 96.80 L516.69 95.13 L516.81 93.42 L516.92 91.67 L517.04 89.86 L517.15 88.00 L517.27 86.08 L517.39 84.11 L517.50 82.07 L517.62 79.98 L517.73 77.82 L517.85 75.59 L517.97 73.30 L518.08 70.93 L518.20 68.50 L518.31 66.00 L518.43 63.43 L518.55 60.80 L518.66 58.12 L518.78 55.40 L518.89 52.65 L519.01 49.89 L519.13 47.17 L519.24 44.52 L519.36 42.00 L519.47 39.66 L519.59 37.59 L519.71 35.87 L519.82 34.57 L519.94 33.75 L520.05 33.48 L520.17 33.75 L520.29 34.57 L520.40 35.87 L520.52 37.59 L520.63 39.66 L520.75 42.00 L520.87 44.52 L520.98 47.17 L521.10 49.89 L521.21 52.65 L521.33 55.40 L521.45 58.12 L521.56 60.80 L521.68 63.43 L521.79 66.00 L521.91 68.50 L522.03 70.93 L522.14 73.30 L522.26 75.59 L522.37 77.82 L522.49 79.98 L522.61 82.07 L522.72 84.11 L522.84 86.08 L522.95 88.00 L523.07 89.86 L523.19 91.67 L523.30 93.42 L523.42 95.13 L523.53 96.80 L523.65 98.42 L523.77 99.99 L523.88 101.53 L524.00 103.03 L524.11 104.49 L524.23 105.92 L524.35 107.31 L524.46 108.67 L524.58 110.00 L524.69 111.30 L525.09 115.50 L525.48 119.41 L525.87 123.07 L526.27 126.51 L526.66 129.74 L527.05 132.80 L527.45 135.70 L527.84 138.46 L528.23 141.08 L528.63 143.58 L529.02 145.98 L529.41 148.27 L529.81 150.47 L530.20 152.58 L530.59 154.61 L530.99 156.57 L531.38 158.46 L531.77 160.28 L532.17 162.05 L532.56 163.75 L532.95 165.41 L533.35 167.01 L533.74 168.56 L534.13 170.07 L534.53 171.54 L534.92 172.97 L535.31 174.36 L535.71 175.71 L536.10 177.03 L536.49 178.31 L536.89 179.56 L537.28 180.79 L537.67 181.98 L538.07 183.15 L538.46 184.29 L538.85 185.40 L539.25 186.49 L539.64 187.56 L540.03 188.60 L540.43 189.62 L540.82 190.62 L541.21 191.60 L541.61 192.57 L542.00 193.51 L542.39 194.43 L542.79 195.34 L543.18 196.23 L543.57 197.10 L543.97 197.96 L544.36 198.80 L544.75 199.63 L545.15 200.44 L545.54 201.24 L545.93 202.03 L546.33 202.80 L546.72 203.56 L547.11 204.31 L547.51 205.04 L547.90 205.76 L550.00 209.44 L552.11 212.84 L554.22 215.98 L556.32 218.89 L558.43 221.61 L560.53 224.14 L562.64 226.52 L564.75 228.74 L566.85 230.83 L568.96 232.80 L571.06 234.65 L573.17 236.40 L575.28 238.06 L577.38 239.62 L579.49 241.10 L581.59 242.51 L583.70 243.84 L585.80 245.10 L587.91 246.30 L590.02 247.45 L592.12 248.53 L594.23 249.57 L596.33 250.56 L598.44 251.50 L600.55 252.40 L602.65 253.25 L604.76 254.07 L606.86 254.86 L608.97 255.60 L611.08 256.32 L613.18 257.01 L615.29 257.66 L617.39 258.29 L619.50 258.89 L621.60 259.47 L623.71 260.03 L625.82 260.56 L627.92 261.07 L630.03 261.56 L632.13 262.03 L634.24 262.48 L636.35 262.92 L638.45 263.34 L640.56 263.74 L642.66 264.13 L644.77 264.51 L646.88 264.87 L648.98 265.21 L651.09 265.55 L653.19 265.87 L655.30 266.18 L657.41 266.49 L659.51 266.78 L661.62 267.06 L663.72 267.33 L665.83 267.59 L667.93 267.84 L670.04 268.09 L672.15 268.32 L674.25 268.55 L676.36 268.78 L678.46 268.99 L680.57 269.20 L682.68 269.40 L684.78 269.59 L686.89 269.78 L688.99 269.97 L691.10 270.15 L693.21 270.32 L695.31 270.48 L697.42 270.65 L699.52 270.80 L701.63 270.96 L703.73 271.11 L705.84 271.25 L707.95 271.39 L710.05 271.53 L712.16 271.66 L714.26 271.79 L716.37 271.91 L718.48 272.04 L720.58 272.15 L722.69 272.27 L724.79 272.38 L726.90 272.49 L729.01 272.60 L731.11 272.70 L733.22 272.80 L735.32 272.90 L737.43 273.00 L739.53 273.09 L741.64 273.18 L743.75 273.27 L745.85 273.36 L747.96 273.44 L750.06 273.52 L752.17 273.60 L754.28 273.68 L756.38 273.76 L758.49 273.83 L760.59 273.91 L762.70 273.98 L764.81 274.05 L766.91 274.12 L769.02 274.18 L771.12 274.25 L773.23 274.31 L775.34 274.37 L777.44 274.43 L779.55 274.49 L781.65 274.55 L783.76 274.61 L785.86 274.66 L787.97 274.72 L790.08 274.77 L792.18 274.82 L794.29 274.88 L796.39 274.93 L798.50 274.97" fill="none" stroke="#ff0000" stroke-width="3.80" stroke-linejoin="round" stroke-linecap="butt"/>
<g stroke="#ff0000" stroke-width="2.9" fill="#ff0000">
<line x1="477.7" y1="48.6" x2="506" y2="48.6"/>
<line x1="530" y1="48.6" x2="554.3" y2="48.6"/>
<path d="M517.2 48.6 L504.5 44.9 L504.5 52.3 Z" stroke="none"/>
<path d="M519.3 48.6 L531.6 44.9 L531.6 52.3 Z" stroke="none"/>
</g>
<g stroke="#000" fill="none">
<rect x="195.20" y="15.60" width="603.30" height="440.70" stroke-width="3.1"/>
<line x1="241.61" y1="456.30" x2="241.61" y2="464.60" stroke-width="2.9"/>
<line x1="241.61" y1="15.60" x2="241.61" y2="23.90" stroke-width="2.9"/>
<line x1="334.42" y1="456.30" x2="334.42" y2="464.60" stroke-width="2.9"/>
<line x1="334.42" y1="15.60" x2="334.42" y2="23.90" stroke-width="2.9"/>
<line x1="427.24" y1="456.30" x2="427.24" y2="464.60" stroke-width="2.9"/>
<line x1="427.24" y1="15.60" x2="427.24" y2="23.90" stroke-width="2.9"/>
<line x1="520.05" y1="456.30" x2="520.05" y2="464.60" stroke-width="2.9"/>
<line x1="520.05" y1="15.60" x2="520.05" y2="23.90" stroke-width="2.9"/>
<line x1="612.87" y1="456.30" x2="612.87" y2="464.60" stroke-width="2.9"/>
<line x1="612.87" y1="15.60" x2="612.87" y2="23.90" stroke-width="2.9"/>
<line x1="705.68" y1="456.30" x2="705.68" y2="464.60" stroke-width="2.9"/>
<line x1="705.68" y1="15.60" x2="705.68" y2="23.90" stroke-width="2.9"/>
<line x1="798.50" y1="456.30" x2="798.50" y2="464.60" stroke-width="2.9"/>
<line x1="798.50" y1="15.60" x2="798.50" y2="23.90" stroke-width="2.9"/>
<line x1="195.20" y1="456.30" x2="195.20" y2="460.90" stroke-width="2.4"/>
<line x1="195.20" y1="15.60" x2="195.20" y2="20.20" stroke-width="2.4"/>
<line x1="288.02" y1="456.30" x2="288.02" y2="460.90" stroke-width="2.4"/>
<line x1="288.02" y1="15.60" x2="288.02" y2="20.20" stroke-width="2.4"/>
<line x1="380.83" y1="456.30" x2="380.83" y2="460.90" stroke-width="2.4"/>
<line x1="380.83" y1="15.60" x2="380.83" y2="20.20" stroke-width="2.4"/>
<line x1="473.65" y1="456.30" x2="473.65" y2="460.90" stroke-width="2.4"/>
<line x1="473.65" y1="15.60" x2="473.65" y2="20.20" stroke-width="2.4"/>
<line x1="566.46" y1="456.30" x2="566.46" y2="460.90" stroke-width="2.4"/>
<line x1="566.46" y1="15.60" x2="566.46" y2="20.20" stroke-width="2.4"/>
<line x1="659.28" y1="456.30" x2="659.28" y2="460.90" stroke-width="2.4"/>
<line x1="659.28" y1="15.60" x2="659.28" y2="20.20" stroke-width="2.4"/>
<line x1="752.09" y1="456.30" x2="752.09" y2="460.90" stroke-width="2.4"/>
<line x1="752.09" y1="15.60" x2="752.09" y2="20.20" stroke-width="2.4"/>
<line x1="186.90" y1="456.30" x2="195.20" y2="456.30" stroke-width="2.9"/>
<line x1="790.20" y1="456.30" x2="798.50" y2="456.30" stroke-width="2.9"/>
<line x1="190.60" y1="437.35" x2="195.20" y2="437.35" stroke-width="2.0"/>
<line x1="793.90" y1="437.35" x2="798.50" y2="437.35" stroke-width="2.0"/>
<line x1="190.60" y1="426.26" x2="195.20" y2="426.26" stroke-width="2.0"/>
<line x1="793.90" y1="426.26" x2="798.50" y2="426.26" stroke-width="2.0"/>
<line x1="190.60" y1="418.40" x2="195.20" y2="418.40" stroke-width="2.0"/>
<line x1="793.90" y1="418.40" x2="798.50" y2="418.40" stroke-width="2.0"/>
<line x1="190.60" y1="412.29" x2="195.20" y2="412.29" stroke-width="2.0"/>
<line x1="793.90" y1="412.29" x2="798.50" y2="412.29" stroke-width="2.0"/>
<line x1="190.60" y1="407.31" x2="195.20" y2="407.31" stroke-width="2.0"/>
<line x1="793.90" y1="407.31" x2="798.50" y2="407.31" stroke-width="2.0"/>
<line x1="190.60" y1="403.10" x2="195.20" y2="403.10" stroke-width="2.0"/>
<line x1="793.90" y1="403.10" x2="798.50" y2="403.10" stroke-width="2.0"/>
<line x1="190.60" y1="399.44" x2="195.20" y2="399.44" stroke-width="2.0"/>
<line x1="793.90" y1="399.44" x2="798.50" y2="399.44" stroke-width="2.0"/>
<line x1="190.60" y1="396.22" x2="195.20" y2="396.22" stroke-width="2.0"/>
<line x1="793.90" y1="396.22" x2="798.50" y2="396.22" stroke-width="2.0"/>
<line x1="186.90" y1="393.34" x2="195.20" y2="393.34" stroke-width="2.9"/>
<line x1="790.20" y1="393.34" x2="798.50" y2="393.34" stroke-width="2.9"/>
<line x1="190.60" y1="374.39" x2="195.20" y2="374.39" stroke-width="2.0"/>
<line x1="793.90" y1="374.39" x2="798.50" y2="374.39" stroke-width="2.0"/>
<line x1="190.60" y1="363.30" x2="195.20" y2="363.30" stroke-width="2.0"/>
<line x1="793.90" y1="363.30" x2="798.50" y2="363.30" stroke-width="2.0"/>
<line x1="190.60" y1="355.44" x2="195.20" y2="355.44" stroke-width="2.0"/>
<line x1="793.90" y1="355.44" x2="798.50" y2="355.44" stroke-width="2.0"/>
<line x1="190.60" y1="349.34" x2="195.20" y2="349.34" stroke-width="2.0"/>
<line x1="793.90" y1="349.34" x2="798.50" y2="349.34" stroke-width="2.0"/>
<line x1="190.60" y1="344.35" x2="195.20" y2="344.35" stroke-width="2.0"/>
<line x1="793.90" y1="344.35" x2="798.50" y2="344.35" stroke-width="2.0"/>
<line x1="190.60" y1="340.14" x2="195.20" y2="340.14" stroke-width="2.0"/>
<line x1="793.90" y1="340.14" x2="798.50" y2="340.14" stroke-width="2.0"/>
<line x1="190.60" y1="336.49" x2="195.20" y2="336.49" stroke-width="2.0"/>
<line x1="793.90" y1="336.49" x2="798.50" y2="336.49" stroke-width="2.0"/>
<line x1="190.60" y1="333.27" x2="195.20" y2="333.27" stroke-width="2.0"/>
<line x1="793.90" y1="333.27" x2="798.50" y2="333.27" stroke-width="2.0"/>
<line x1="186.90" y1="330.39" x2="195.20" y2="330.39" stroke-width="2.9"/>
<line x1="790.20" y1="330.39" x2="798.50" y2="330.39" stroke-width="2.9"/>
<line x1="190.60" y1="311.43" x2="195.20" y2="311.43" stroke-width="2.0"/>
<line x1="793.90" y1="311.43" x2="798.50" y2="311.43" stroke-width="2.0"/>
<line x1="190.60" y1="300.35" x2="195.20" y2="300.35" stroke-width="2.0"/>
<line x1="793.90" y1="300.35" x2="798.50" y2="300.35" stroke-width="2.0"/>
<line x1="190.60" y1="292.48" x2="195.20" y2="292.48" stroke-width="2.0"/>
<line x1="793.90" y1="292.48" x2="798.50" y2="292.48" stroke-width="2.0"/>
<line x1="190.60" y1="286.38" x2="195.20" y2="286.38" stroke-width="2.0"/>
<line x1="793.90" y1="286.38" x2="798.50" y2="286.38" stroke-width="2.0"/>
<line x1="190.60" y1="281.40" x2="195.20" y2="281.40" stroke-width="2.0"/>
<line x1="793.90" y1="281.40" x2="798.50" y2="281.40" stroke-width="2.0"/>
<line x1="190.60" y1="277.18" x2="195.20" y2="277.18" stroke-width="2.0"/>
<line x1="793.90" y1="277.18" x2="798.50" y2="277.18" stroke-width="2.0"/>
<line x1="190.60" y1="273.53" x2="195.20" y2="273.53" stroke-width="2.0"/>
<line x1="793.90" y1="273.53" x2="798.50" y2="273.53" stroke-width="2.0"/>
<line x1="190.60" y1="270.31" x2="195.20" y2="270.31" stroke-width="2.0"/>
<line x1="793.90" y1="270.31" x2="798.50" y2="270.31" stroke-width="2.0"/>
<line x1="186.90" y1="267.43" x2="195.20" y2="267.43" stroke-width="2.9"/>
<line x1="790.20" y1="267.43" x2="798.50" y2="267.43" stroke-width="2.9"/>
<line x1="190.60" y1="248.48" x2="195.20" y2="248.48" stroke-width="2.0"/>
<line x1="793.90" y1="248.48" x2="798.50" y2="248.48" stroke-width="2.0"/>
<line x1="190.60" y1="237.39" x2="195.20" y2="237.39" stroke-width="2.0"/>
<line x1="793.90" y1="237.39" x2="798.50" y2="237.39" stroke-width="2.0"/>
<line x1="190.60" y1="229.52" x2="195.20" y2="229.52" stroke-width="2.0"/>
<line x1="793.90" y1="229.52" x2="798.50" y2="229.52" stroke-width="2.0"/>
<line x1="190.60" y1="223.42" x2="195.20" y2="223.42" stroke-width="2.0"/>
<line x1="793.90" y1="223.42" x2="798.50" y2="223.42" stroke-width="2.0"/>
<line x1="190.60" y1="218.44" x2="195.20" y2="218.44" stroke-width="2.0"/>
<line x1="793.90" y1="218.44" x2="798.50" y2="218.44" stroke-width="2.0"/>
<line x1="190.60" y1="214.22" x2="195.20" y2="214.22" stroke-width="2.0"/>
<line x1="793.90" y1="214.22" x2="798.50" y2="214.22" stroke-width="2.0"/>
<line x1="190.60" y1="210.57" x2="195.20" y2="210.57" stroke-width="2.0"/>
<line x1="793.90" y1="210.57" x2="798.50" y2="210.57" stroke-width="2.0"/>
<line x1="190.60" y1="207.35" x2="195.20" y2="207.35" stroke-width="2.0"/>
<line x1="793.90" y1="207.35" x2="798.50" y2="207.35" stroke-width="2.0"/>
<line x1="186.90" y1="204.47" x2="195.20" y2="204.47" stroke-width="2.9"/>
<line x1="790.20" y1="204.47" x2="798.50" y2="204.47" stroke-width="2.9"/>
<line x1="190.60" y1="185.52" x2="195.20" y2="185.52" stroke-width="2.0"/>
<line x1="793.90" y1="185.52" x2="798.50" y2="185.52" stroke-width="2.0"/>
<line x1="190.60" y1="174.43" x2="195.20" y2="174.43" stroke-width="2.0"/>
<line x1="793.90" y1="174.43" x2="798.50" y2="174.43" stroke-width="2.0"/>
<line x1="190.60" y1="166.57" x2="195.20" y2="166.57" stroke-width="2.0"/>
<line x1="793.90" y1="166.57" x2="798.50" y2="166.57" stroke-width="2.0"/>
<line x1="190.60" y1="160.47" x2="195.20" y2="160.47" stroke-width="2.0"/>
<line x1="793.90" y1="160.47" x2="798.50" y2="160.47" stroke-width="2.0"/>
<line x1="190.60" y1="155.48" x2="195.20" y2="155.48" stroke-width="2.0"/>
<line x1="793.90" y1="155.48" x2="798.50" y2="155.48" stroke-width="2.0"/>
<line x1="190.60" y1="151.27" x2="195.20" y2="151.27" stroke-width="2.0"/>
<line x1="793.90" y1="151.27" x2="798.50" y2="151.27" stroke-width="2.0"/>
<line x1="190.60" y1="147.62" x2="195.20" y2="147.62" stroke-width="2.0"/>
<line x1="793.90" y1="147.62" x2="798.50" y2="147.62" stroke-width="2.0"/>
<line x1="190.60" y1="144.40" x2="195.20" y2="144.40" stroke-width="2.0"/>
<line x1="793.90" y1="144.40" x2="798.50" y2="144.40" stroke-width="2.0"/>
<line x1="186.90" y1="141.51" x2="195.20" y2="141.51" stroke-width="2.9"/>
<line x1="790.20" y1="141.51" x2="798.50" y2="141.51" stroke-width="2.9"/>
<line x1="190.60" y1="122.56" x2="195.20" y2="122.56" stroke-width="2.0"/>
<line x1="793.90" y1="122.56" x2="798.50" y2="122.56" stroke-width="2.0"/>
<line x1="190.60" y1="111.48" x2="195.20" y2="111.48" stroke-width="2.0"/>
<line x1="793.90" y1="111.48" x2="798.50" y2="111.48" stroke-width="2.0"/>
<line x1="190.60" y1="103.61" x2="195.20" y2="103.61" stroke-width="2.0"/>
<line x1="793.90" y1="103.61" x2="798.50" y2="103.61" stroke-width="2.0"/>
<line x1="190.60" y1="97.51" x2="195.20" y2="97.51" stroke-width="2.0"/>
<line x1="793.90" y1="97.51" x2="798.50" y2="97.51" stroke-width="2.0"/>
<line x1="190.60" y1="92.52" x2="195.20" y2="92.52" stroke-width="2.0"/>
<line x1="793.90" y1="92.52" x2="798.50" y2="92.52" stroke-width="2.0"/>
<line x1="190.60" y1="88.31" x2="195.20" y2="88.31" stroke-width="2.0"/>
<line x1="793.90" y1="88.31" x2="798.50" y2="88.31" stroke-width="2.0"/>
<line x1="190.60" y1="84.66" x2="195.20" y2="84.66" stroke-width="2.0"/>
<line x1="793.90" y1="84.66" x2="798.50" y2="84.66" stroke-width="2.0"/>
<line x1="190.60" y1="81.44" x2="195.20" y2="81.44" stroke-width="2.0"/>
<line x1="793.90" y1="81.44" x2="798.50" y2="81.44" stroke-width="2.0"/>
<line x1="186.90" y1="78.56" x2="195.20" y2="78.56" stroke-width="2.9"/>
<line x1="790.20" y1="78.56" x2="798.50" y2="78.56" stroke-width="2.9"/>
<line x1="190.60" y1="59.61" x2="195.20" y2="59.61" stroke-width="2.0"/>
<line x1="793.90" y1="59.61" x2="798.50" y2="59.61" stroke-width="2.0"/>
<line x1="190.60" y1="48.52" x2="195.20" y2="48.52" stroke-width="2.0"/>
<line x1="793.90" y1="48.52" x2="798.50" y2="48.52" stroke-width="2.0"/>
<line x1="190.60" y1="40.65" x2="195.20" y2="40.65" stroke-width="2.0"/>
<line x1="793.90" y1="40.65" x2="798.50" y2="40.65" stroke-width="2.0"/>
<line x1="190.60" y1="34.55" x2="195.20" y2="34.55" stroke-width="2.0"/>
<line x1="793.90" y1="34.55" x2="798.50" y2="34.55" stroke-width="2.0"/>
<line x1="190.60" y1="29.57" x2="195.20" y2="29.57" stroke-width="2.0"/>
<line x1="793.90" y1="29.57" x2="798.50" y2="29.57" stroke-width="2.0"/>
<line x1="190.60" y1="25.35" x2="195.20" y2="25.35" stroke-width="2.0"/>
<line x1="793.90" y1="25.35" x2="798.50" y2="25.35" stroke-width="2.0"/>
<line x1="190.60" y1="21.70" x2="195.20" y2="21.70" stroke-width="2.0"/>
<line x1="793.90" y1="21.70" x2="798.50" y2="21.70" stroke-width="2.0"/>
<line x1="190.60" y1="18.48" x2="195.20" y2="18.48" stroke-width="2.0"/>
<line x1="793.90" y1="18.48" x2="798.50" y2="18.48" stroke-width="2.0"/>
<line x1="186.90" y1="15.60" x2="195.20" y2="15.60" stroke-width="2.9"/>
<line x1="790.20" y1="15.60" x2="798.50" y2="15.60" stroke-width="2.9"/>
</g>
<rect x="569.7" y="42.3" width="224.6" height="69.4" fill="#fff" stroke="#222" stroke-width="1"/>
<circle cx="603.6" cy="61.4" r="5.6" fill="#000"/>
<line x1="573.6" y1="93.4" x2="634.3" y2="93.4" stroke="#ff0000" stroke-width="3.2"/>
<text x="639.2" y="69.5" font-family='"Liberation Serif", "DejaVu Serif", serif' font-size="25.2">Beat signal</text>
<text x="639.2" y="101.8" font-family='"Liberation Serif", "DejaVu Serif", serif' font-size="25.2">Lorentz fitting</text>
<text x="409.8" y="45.4" font-family='"Liberation Serif", "DejaVu Serif", serif' font-size="30.5">24 kHz</text>
<text x="203.6" y="111.5" font-family='"Liberation Serif", "DejaVu Serif", serif' font-size="29.5" textLength="173.5" lengthAdjust="spacing">RBW=16 kHz</text>
<text x="93.10" y="30.30" text-anchor="middle" stroke="#000" stroke-width="0.45" font-family='"Liberation Serif", "DejaVu Serif", serif' font-size="36.5">0</text>
<text x="108.90" y="30.30" text-anchor="middle" stroke="#000" stroke-width="0.45" font-family='"Liberation Serif", "DejaVu Serif", serif' font-size="36.5">.</text>
<text x="131.70" y="30.30" text-anchor="middle" stroke="#000" stroke-width="0.45" font-family='"Liberation Serif", "DejaVu Serif", serif' font-size="36.5">0</text>
<text x="151.00" y="30.30" text-anchor="middle" stroke="#000" stroke-width="0.45" font-family='"Liberation Serif", "DejaVu Serif", serif' font-size="36.5">0</text>
<text x="170.30" y="30.30" text-anchor="middle" stroke="#000" stroke-width="0.45" font-family='"Liberation Serif", "DejaVu Serif", serif' font-size="36.5">1</text>
<text x="112.40" y="93.26" text-anchor="middle" stroke="#000" stroke-width="0.45" font-family='"Liberation Serif", "DejaVu Serif", serif' font-size="36.5">1</text>
<text transform="translate(131.70 93.26) scale(0.80 1)" text-anchor="middle" stroke="#000" stroke-width="0.45" font-family='"Liberation Serif", "DejaVu Serif", serif' font-size="36.5">E</text>
<text transform="translate(150.20 93.26) scale(0.92 1)" text-anchor="middle" stroke="#000" stroke-width="0.45" font-family='"Liberation Serif", "DejaVu Serif", serif' font-size="36.5">−</text>
<text x="170.30" y="93.26" text-anchor="middle" stroke="#000" stroke-width="0.45" font-family='"Liberation Serif", "DejaVu Serif", serif' font-size="36.5">4</text>
<text x="112.40" y="156.21" text-anchor="middle" stroke="#000" stroke-width="0.45" font-family='"Liberation Serif", "DejaVu Serif", serif' font-size="36.5">1</text>
<text transform="translate(131.70 156.21) scale(0.80 1)" text-anchor="middle" stroke="#000" stroke-width="0.45" font-family='"Liberation Serif", "DejaVu Serif", serif' font-size="36.5">E</text>
<text transform="translate(150.20 156.21) scale(0.92 1)" text-anchor="middle" stroke="#000" stroke-width="0.45" font-family='"Liberation Serif", "DejaVu Serif", serif' font-size="36.5">−</text>
<text x="170.30" y="156.21" text-anchor="middle" stroke="#000" stroke-width="0.45" font-family='"Liberation Serif", "DejaVu Serif", serif' font-size="36.5">5</text>
<text x="112.40" y="219.17" text-anchor="middle" stroke="#000" stroke-width="0.45" font-family='"Liberation Serif", "DejaVu Serif", serif' font-size="36.5">1</text>
<text transform="translate(131.70 219.17) scale(0.80 1)" text-anchor="middle" stroke="#000" stroke-width="0.45" font-family='"Liberation Serif", "DejaVu Serif", serif' font-size="36.5">E</text>
<text transform="translate(150.20 219.17) scale(0.92 1)" text-anchor="middle" stroke="#000" stroke-width="0.45" font-family='"Liberation Serif", "DejaVu Serif", serif' font-size="36.5">−</text>
<text x="170.30" y="219.17" text-anchor="middle" stroke="#000" stroke-width="0.45" font-family='"Liberation Serif", "DejaVu Serif", serif' font-size="36.5">6</text>
<text x="112.40" y="282.13" text-anchor="middle" stroke="#000" stroke-width="0.45" font-family='"Liberation Serif", "DejaVu Serif", serif' font-size="36.5">1</text>
<text transform="translate(131.70 282.13) scale(0.80 1)" text-anchor="middle" stroke="#000" stroke-width="0.45" font-family='"Liberation Serif", "DejaVu Serif", serif' font-size="36.5">E</text>
<text transform="translate(150.20 282.13) scale(0.92 1)" text-anchor="middle" stroke="#000" stroke-width="0.45" font-family='"Liberation Serif", "DejaVu Serif", serif' font-size="36.5">−</text>
<text x="170.30" y="282.13" text-anchor="middle" stroke="#000" stroke-width="0.45" font-family='"Liberation Serif", "DejaVu Serif", serif' font-size="36.5">7</text>
<text x="112.40" y="345.09" text-anchor="middle" stroke="#000" stroke-width="0.45" font-family='"Liberation Serif", "DejaVu Serif", serif' font-size="36.5">1</text>
<text transform="translate(131.70 345.09) scale(0.80 1)" text-anchor="middle" stroke="#000" stroke-width="0.45" font-family='"Liberation Serif", "DejaVu Serif", serif' font-size="36.5">E</text>
<text transform="translate(150.20 345.09) scale(0.92 1)" text-anchor="middle" stroke="#000" stroke-width="0.45" font-family='"Liberation Serif", "DejaVu Serif", serif' font-size="36.5">−</text>
<text x="170.30" y="345.09" text-anchor="middle" stroke="#000" stroke-width="0.45" font-family='"Liberation Serif", "DejaVu Serif", serif' font-size="36.5">8</text>
<text x="112.40" y="408.04" text-anchor="middle" stroke="#000" stroke-width="0.45" font-family='"Liberation Serif", "DejaVu Serif", serif' font-size="36.5">1</text>
<text transform="translate(131.70 408.04) scale(0.80 1)" text-anchor="middle" stroke="#000" stroke-width="0.45" font-family='"Liberation Serif", "DejaVu Serif", serif' font-size="36.5">E</text>
<text transform="translate(150.20 408.04) scale(0.92 1)" text-anchor="middle" stroke="#000" stroke-width="0.45" font-family='"Liberation Serif", "DejaVu Serif", serif' font-size="36.5">−</text>
<text x="170.30" y="408.04" text-anchor="middle" stroke="#000" stroke-width="0.45" font-family='"Liberation Serif", "DejaVu Serif", serif' font-size="36.5">9</text>
<text x="93.10" y="471.00" text-anchor="middle" stroke="#000" stroke-width="0.45" font-family='"Liberation Serif", "DejaVu Serif", serif' font-size="36.5">1</text>
<text transform="translate(112.40 471.00) scale(0.80 1)" text-anchor="middle" stroke="#000" stroke-width="0.45" font-family='"Liberation Serif", "DejaVu Serif", serif' font-size="36.5">E</text>
<text transform="translate(130.90 471.00) scale(0.92 1)" text-anchor="middle" stroke="#000" stroke-width="0.45" font-family='"Liberation Serif", "DejaVu Serif", serif' font-size="36.5">−</text>
<text x="151.00" y="471.00" text-anchor="middle" stroke="#000" stroke-width="0.45" font-family='"Liberation Serif", "DejaVu Serif", serif' font-size="36.5">1</text>
<text x="170.30" y="471.00" text-anchor="middle" stroke="#000" stroke-width="0.45" font-family='"Liberation Serif", "DejaVu Serif", serif' font-size="36.5">0</text>
<text transform="translate(231.16 501.40) scale(0.92 1)" text-anchor="middle" stroke="#000" stroke-width="0.45" font-family='"Liberation Serif", "DejaVu Serif", serif' font-size="36.5">−</text>
<text x="251.26" y="501.40" text-anchor="middle" stroke="#000" stroke-width="0.45" font-family='"Liberation Serif", "DejaVu Serif", serif' font-size="36.5">3</text>
<text transform="translate(323.97 501.40) scale(0.92 1)" text-anchor="middle" stroke="#000" stroke-width="0.45" font-family='"Liberation Serif", "DejaVu Serif", serif' font-size="36.5">−</text>
<text x="344.07" y="501.40" text-anchor="middle" stroke="#000" stroke-width="0.45" font-family='"Liberation Serif", "DejaVu Serif", serif' font-size="36.5">2</text>
<text transform="translate(416.79 501.40) scale(0.92 1)" text-anchor="middle" stroke="#000" stroke-width="0.45" font-family='"Liberation Serif", "DejaVu Serif", serif' font-size="36.5">−</text>
<text x="436.89" y="501.40" text-anchor="middle" stroke="#000" stroke-width="0.45" font-family='"Liberation Serif", "DejaVu Serif", serif' font-size="36.5">1</text>
<text x="520.05" y="501.40" text-anchor="middle" stroke="#000" stroke-width="0.45" font-family='"Liberation Serif", "DejaVu Serif", serif' font-size="36.5">0</text>
<text x="612.87" y="501.40" text-anchor="middle" stroke="#000" stroke-width="0.45" font-family='"Liberation Serif", "DejaVu Serif", serif' font-size="36.5">1</text>
<text x="705.68" y="501.40" text-anchor="middle" stroke="#000" stroke-width="0.45" font-family='"Liberation Serif", "DejaVu Serif", serif' font-size="36.5">2</text>
<text x="798.50" y="501.40" text-anchor="middle" stroke="#000" stroke-width="0.45" font-family='"Liberation Serif", "DejaVu Serif", serif' font-size="36.5">3</text>
<text x="281.5" y="551" font-family='"Liberation Serif", "DejaVu Serif", serif' font-size="35.45" font-weight="bold">Frequency detuning (MHz)</text>
<text transform="translate(47.1 336.2) rotate(-90)" font-family='"Liberation Serif", "DejaVu Serif", serif' font-size="43.55" font-weight="bold">Amplitude</text>
<text x="-1.2 13.4 39.0" y="37.7" font-family='"Liberation Sans", "DejaVu Sans", sans-serif' font-size="41" font-weight="bold">(a)</text>
<text x="31.6 46.4 73.4" y="588" font-family='"Liberation Sans", "DejaVu Sans", sans-serif' font-size="41" font-weight="bold">(b)</text>
<g fill="#ff0000" stroke="#000" stroke-width="1.1">
<rect x="228.32" y="754.13" width="46.00" height="257.47"/>
<rect x="328.77" y="635.31" width="46.00" height="376.29"/>
<rect x="429.22" y="773.94" width="46.00" height="237.66"/>
<rect x="529.67" y="872.97" width="46.00" height="138.63"/>
<rect x="630.12" y="952.19" width="46.00" height="59.41"/>
<rect x="730.57" y="991.80" width="46.00" height="19.80"/>
</g>
<g stroke="#000" fill="none">
<line x1="201.00" y1="589.00" x2="201.00" y2="1013.70" stroke-width="3.7"/>
<line x1="199.20" y1="590.80" x2="806.10" y2="590.80" stroke-width="3.7"/>
<line x1="803.50" y1="588.20" x2="803.50" y2="1013.70" stroke-width="5.2"/>
<line x1="192.20" y1="1011.65" x2="806.10" y2="1011.65" stroke-width="4.1"/>
<line x1="191.90" y1="1011.60" x2="201.10" y2="1011.60" stroke-width="3.8"/>
<line x1="196.10" y1="962.09" x2="201.10" y2="962.09" stroke-width="3.2"/>
<line x1="191.90" y1="912.58" x2="201.10" y2="912.58" stroke-width="3.8"/>
<line x1="196.10" y1="863.06" x2="201.10" y2="863.06" stroke-width="3.2"/>
<line x1="191.90" y1="813.55" x2="201.10" y2="813.55" stroke-width="3.8"/>
<line x1="196.10" y1="764.04" x2="201.10" y2="764.04" stroke-width="3.2"/>
<line x1="191.90" y1="714.53" x2="201.10" y2="714.53" stroke-width="3.8"/>
<line x1="196.10" y1="665.01" x2="201.10" y2="665.01" stroke-width="3.2"/>
<line x1="191.90" y1="615.50" x2="201.10" y2="615.50" stroke-width="3.8"/>
<line x1="251.32" y1="1011.60" x2="251.32" y2="1020.10" stroke-width="3.6"/>
<line x1="351.77" y1="1011.60" x2="351.77" y2="1020.10" stroke-width="3.6"/>
<line x1="452.22" y1="1011.60" x2="452.22" y2="1020.10" stroke-width="3.6"/>
<line x1="552.67" y1="1011.60" x2="552.67" y2="1020.10" stroke-width="3.6"/>
<line x1="653.12" y1="1011.60" x2="653.12" y2="1020.10" stroke-width="3.6"/>
<line x1="753.57" y1="1011.60" x2="753.57" y2="1020.10" stroke-width="3.6"/>
<line x1="201.10" y1="1011.60" x2="201.10" y2="1016.20" stroke-width="3.0"/>
<line x1="301.55" y1="1011.60" x2="301.55" y2="1016.20" stroke-width="3.0"/>
<line x1="402.00" y1="1011.60" x2="402.00" y2="1016.20" stroke-width="3.0"/>
<line x1="502.45" y1="1011.60" x2="502.45" y2="1016.20" stroke-width="3.0"/>
<line x1="602.90" y1="1011.60" x2="602.90" y2="1016.20" stroke-width="3.0"/>
<line x1="703.35" y1="1011.60" x2="703.35" y2="1016.20" stroke-width="3.0"/>
</g>
<text x="186.6" y="1023.90" text-anchor="end" font-family='"Liberation Serif", "DejaVu Serif", serif' font-size="43">0</text>
<text x="186.6" y="924.88" text-anchor="end" font-family='"Liberation Serif", "DejaVu Serif", serif' font-size="43">10</text>
<text x="186.6" y="825.85" text-anchor="end" font-family='"Liberation Serif", "DejaVu Serif", serif' font-size="43">20</text>
<text x="186.6" y="726.83" text-anchor="end" font-family='"Liberation Serif", "DejaVu Serif", serif' font-size="43">30</text>
<text x="186.6" y="627.80" text-anchor="end" font-family='"Liberation Serif", "DejaVu Serif", serif' font-size="43">40</text>
<text x="201.4" y="1050" font-family='"Liberation Serif", "DejaVu Serif", serif' font-size="42.2">16-20</text>
<text x="301.8" y="1050" font-family='"Liberation Serif", "DejaVu Serif", serif' font-size="42.2">20-24</text>
<text x="412.2" y="1050" font-family='"Liberation Serif", "DejaVu Serif", serif' font-size="42.2">24-28</text>
<text x="516.0" y="1050" font-family='"Liberation Serif", "DejaVu Serif", serif' font-size="42.2">28-32</text>
<text x="621.8" y="1050" font-family='"Liberation Serif", "DejaVu Serif", serif' font-size="42.2">32-36</text>
<text x="728.4" y="1050" font-family='"Liberation Serif", "DejaVu Serif", serif' font-size="42.2">36-40</text>
<text x="281.2" y="1101.5" font-family='"Liberation Serif", "DejaVu Serif", serif' font-size="44.5" font-weight="bold">Linewidth range (kHz)</text>
<text transform="translate(101.7 1063.6) rotate(-90)" font-family='"Liberation Serif", "DejaVu Serif", serif' font-size="44.8" font-weight="bold">Occurrence times (a.u.)</text>
</svg>
</body>
</html>
